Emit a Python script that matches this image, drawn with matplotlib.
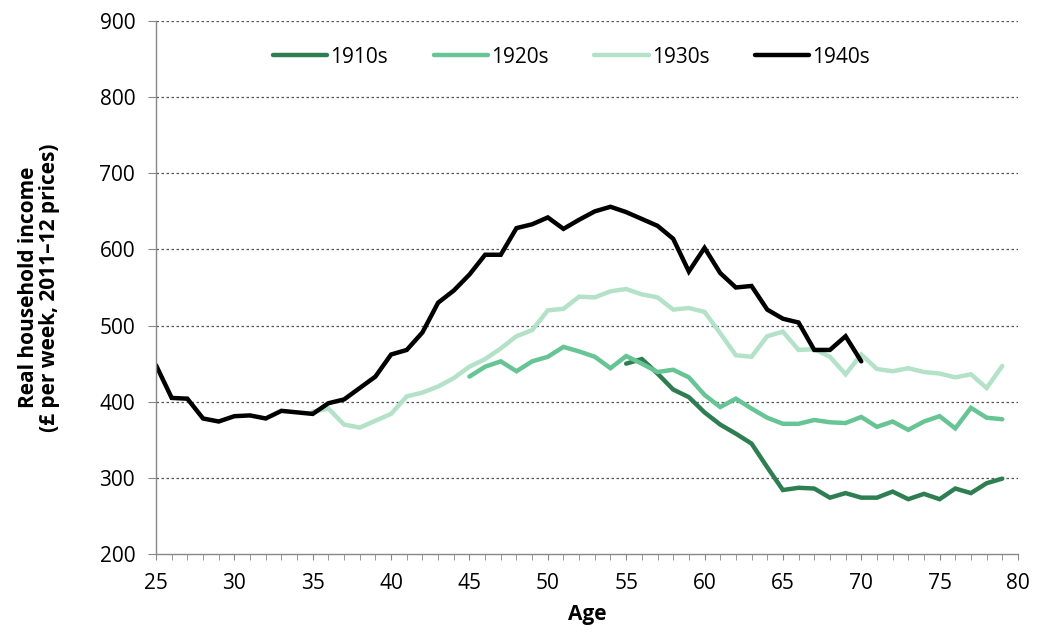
import numpy as np
import matplotlib.pyplot as plt
from matplotlib.ticker import MultipleLocator

ages_1910s = list(range(55, 80))
inc_1910s = [450, 456, 437, 416, 406, 386, 370, 358, 345, 314, 284, 287, 286, 274, 280,
             274, 274, 282, 272, 279, 272, 286, 280, 293, 299]

ages_1920s = list(range(45, 80))
inc_1920s = [433, 446, 453, 440, 453, 459, 472, 466, 459, 444, 460, 450, 439, 442, 432,
             409, 393, 404, 391, 379, 371, 371, 376, 373, 372, 380, 367, 374, 363, 374,
             381, 365, 392, 379, 377]

ages_1930s = list(range(35, 80))
inc_1930s = [387, 391, 370, 366, 375, 384, 407, 412, 420, 431, 446, 456, 470, 486, 494,
             520, 522, 538, 537, 545, 548, 541, 537, 521, 523, 518, 490, 461, 459, 486,
             492, 468, 469, 459, 436, 462, 443, 440, 444, 439, 437, 432, 436, 418, 447]

ages_1940s = list(range(25, 71))
inc_1940s = [448, 405, 404, 378, 374, 381, 382, 378, 388, 386, 384, 398, 403, 418, 433,
             462, 468, 491, 530, 546, 567, 593, 593, 628, 633, 642, 627, 639, 650, 656,
             649, 640, 631, 614, 571, 602, 569, 550, 552, 521, 509, 504, 468, 468, 486, 453]

labels = ['1910s', '1920s', '1930s', '1940s']
colors = ['#2F7E52', '#66C495', '#B3E2C8', '#000000']

plt.rcParams['font.family'] = ['Open Sans', 'DejaVu Sans']

fig = plt.figure(figsize=(10.38, 6.32), dpi=100)
ax = fig.add_axes([0.1503, 0.1234, 0.8304, 0.8434])

series = [(ages_1910s, inc_1910s), (ages_1920s, inc_1920s),
          (ages_1930s, inc_1930s), (ages_1940s, inc_1940s)]
for (x, y), lab, c in zip(series, labels, colors):
    ax.plot(x, y, color=c, lw=3.2, label=lab, solid_capstyle='round', solid_joinstyle='miter')

ax.set_xlim(25, 80)
ax.set_ylim(200, 900)
ax.xaxis.set_major_locator(MultipleLocator(5))
ax.xaxis.set_minor_locator(MultipleLocator(1))
ax.yaxis.set_major_locator(MultipleLocator(100))

for v in range(300, 901, 100):
    ax.axhline(v, color='#555555', lw=0.9, ls=(0, (2, 2)), zorder=0)

for s in ['top', 'right']:
    ax.spines[s].set_visible(False)
for s in ['left', 'bottom']:
    ax.spines[s].set_color('#888888')
    ax.spines[s].set_linewidth(1)

ax.tick_params(axis='both', which='both', direction='out', color='#888888', labelsize=15)
ax.tick_params(axis='x', which='both', length=4.5, pad=9)
ax.tick_params(axis='y', length=6, pad=9)

ax.set_xlabel('Age', fontsize=15, fontweight='bold')
ax.xaxis.set_label_coords(0.5, -0.094)
ax.set_ylabel('Real household income\n(£ per week, 2011–12 prices)', fontsize=15,
              fontweight='bold', linespacing=1.05)
ax.yaxis.set_label_coords(-0.111, 0.5)

ax.legend(loc='center', bbox_to_anchor=(0.482, 0.932), ncol=4, frameon=False,
          fontsize=15, handlelength=2.6, handletextpad=0.15, columnspacing=2.2)

fig.savefig('out.png', dpi=100)
